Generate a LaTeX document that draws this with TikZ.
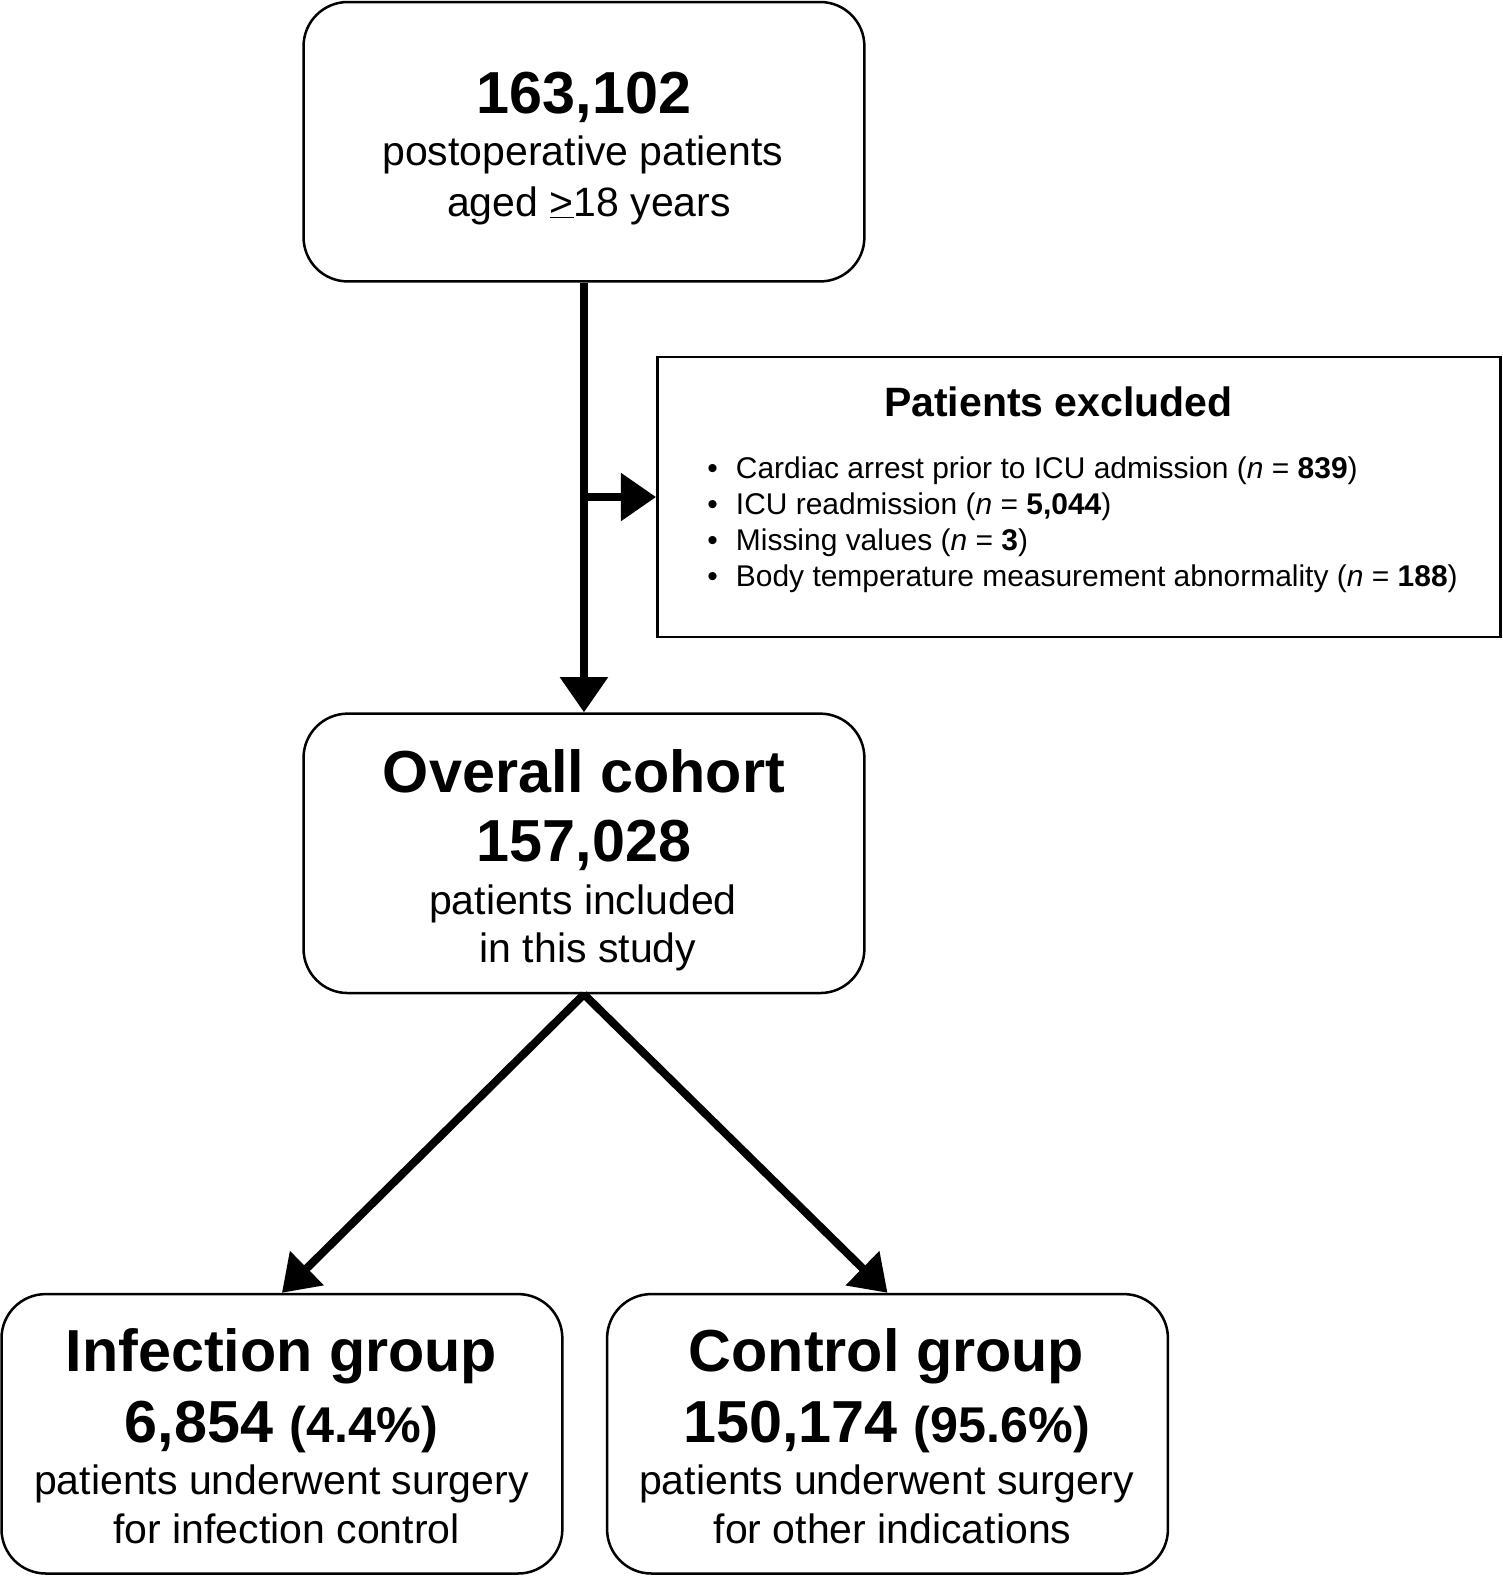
\documentclass[tikz,border=0pt]{standalone}
\usepackage{fontspec}
\setmainfont{Liberation Sans}
\usetikzlibrary{arrows.meta}
\tikzset{
  roundbox/.style={draw, line width=2.5pt, rounded corners=44pt, minimum width=558pt, minimum height=278pt, inner sep=0pt},
  exclbox/.style={draw, line width=2.5pt, minimum width=839pt, minimum height=279pt, inner sep=0pt},
  bignum/.style={anchor=base, font=\fontsize{59}{60}\selectfont\bfseries},
  bodytxt/.style={anchor=base, font=\fontsize{40.8}{50}\selectfont},
  listtxt/.style={anchor=base west, font=\fontsize{29.8}{36}\selectfont},
  flow/.style={line width=8pt, -{Triangle[length=35pt,width=46pt]}}
}
\begin{document}
\begin{tikzpicture}[x={(1pt,0)}, y={(0,-1pt)}]
    \useasboundingbox[fill=white] (0,0) rectangle (1494.5,1568);
    %% boxes
    \node[roundbox] (start) at (581,141) {};
    \node[exclbox] (excl) at (1073.5,494.5) {};
    \node[roundbox] (cohort) at (581,849) {};
    \node[roundbox] (infect) at (280.5,1426.5) {};
    \node[roundbox] (control) at (883,1426.5) {};
    %% top box
    \node[bignum] (startnum) at (581,113) {163,102};
    \node[bodytxt] (starta) at (580,165) {postoperative patients};
    \node[bodytxt] (startb) at (586,215) {aged \underline{>}18 years};
    %% excluded
    \node[bodytxt, font=\fontsize{40.8}{50}\selectfont\bfseries] (excltitle) at (1053,414) {Patients excluded};
    \node[anchor=base, font=\fontsize{29.8}{36}\selectfont] (dota) at (709,476) {\textbullet};
    \node[anchor=base, font=\fontsize{29.8}{36}\selectfont] (dotb) at (709,512) {\textbullet};
    \node[anchor=base, font=\fontsize{29.8}{36}\selectfont] (dotc) at (709,548) {\textbullet};
    \node[anchor=base, font=\fontsize{29.8}{36}\selectfont] (dotd) at (709,584) {\textbullet};
    \node[listtxt, inner xsep=0pt] (excla) at (732,476) {Cardiac arrest prior to ICU admission (\textit{n} = \textbf{839})};
    \node[listtxt, inner xsep=0pt] (exclb) at (732,512) {ICU readmission (\textit{n} = \textbf{5,044})};
    \node[listtxt, inner xsep=0pt] (exclc) at (732,548) {Missing values (\textit{n} = \textbf{3})};
    \node[listtxt, inner xsep=0pt] (excld) at (732,584) {Body temperature measurement abnormality (\textit{n} = \textbf{188})};
    %% cohort box
    \node[bignum] (cohorttitle) at (581,788) {Overall cohort};
    \node[bignum] (cohortnum) at (581,857) {157,028};
    \node[bodytxt] (cohorta) at (580,910) {patients included};
    \node[bodytxt] (cohortb) at (585,958) {in this study};
    %% groups
    \node[bignum] (infecttitle) at (280,1365) {Infection group};
    \node[bignum] (infectnum) at (280,1435) {6,854 {\fontsize{50}{50}\selectfont(4.4\%)}};
    \node[bodytxt] (infecta) at (280,1487) {patients underwent surgery};
    \node[bodytxt] (infectb) at (285,1536) {for infection control};
    \node[bignum] (controltitle) at (882,1365) {Control group};
    \node[bignum] (controlnum) at (882,1435) {150,174 {\fontsize{50}{50}\selectfont(95.6\%)}};
    \node[bodytxt] (controla) at (882,1487) {patients underwent surgery};
    \node[bodytxt] (controlb) at (888,1536) {for other indications};
    %% arrows
    \coordinate (branch) at (start.south |- excl.west);
    \draw[flow] (start.south) -- (cohort.north);
    \draw[flow] (branch) -- (excl.west);
    \draw[flow] (cohort.south) -- (infect.north);
    \draw[flow] (cohort.south) -- (control.north);
\end{tikzpicture}
\end{document}
